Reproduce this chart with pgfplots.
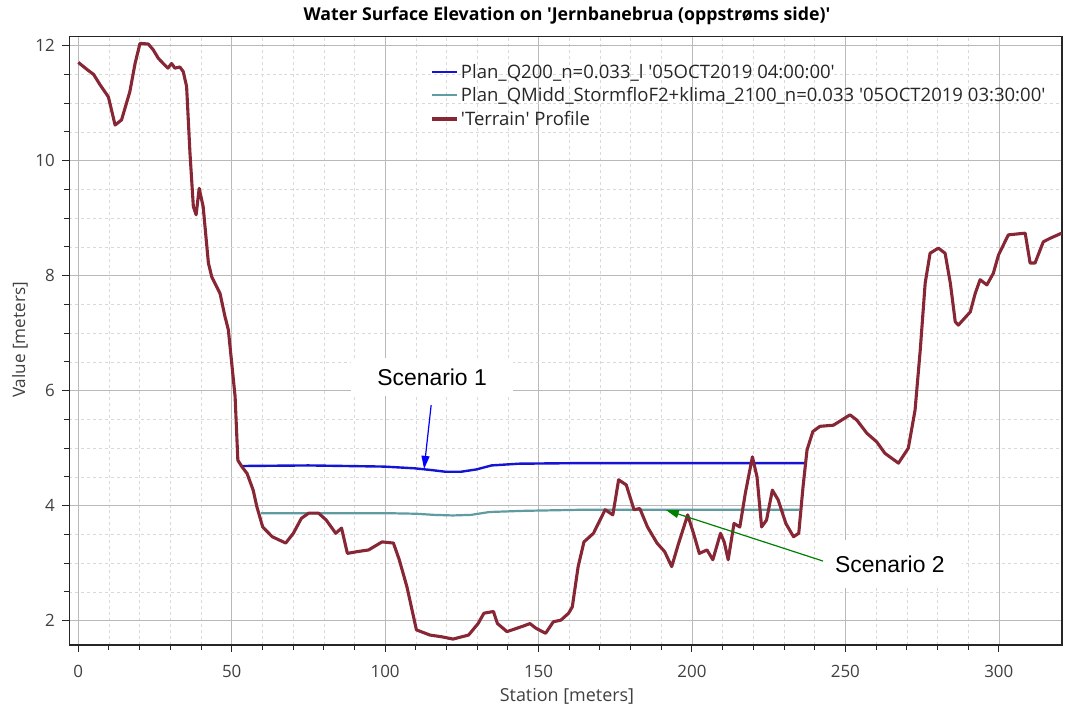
\documentclass[border=0pt]{standalone}
\usepackage{fontspec}
\setmainfont{Open Sans}
\newfontfamily\arial{Liberation Sans}
\usepackage{pgfplots}
\pgfplotsset{compat=1.18}
\usetikzlibrary{arrows.meta}
\definecolor{terrain}{RGB}{135,38,52}
\definecolor{wsblue}{RGB}{20,20,210}
\definecolor{wsteal}{RGB}{95,155,160}
\definecolor{arrgreen}{RGB}{0,128,0}
\newcommand{\q}{\textquotesingle}
\begin{document}
\begin{tikzpicture}[x=1bp,y=1bp]
\useasboundingbox (0,0) rectangle (1065,710);
\begin{axis}[
  at={(69.3bp,65bp)}, anchor=south west,
  scale only axis, width=992.7bp, height=608.3bp,
  xmin=-2.93, xmax=320.6, ymin=1.577, ymax=12.157,
  xtick={0,50,...,300}, minor x tick num=4,
  ytick={2,4,...,12}, minor y tick num=3,
  tick align=outside, xtick pos=bottom, ytick pos=left,
  major tick length=7bp, minor tick length=5bp,
  grid=both,
  major grid style={gray!55, line width=0.6bp},
  minor grid style={gray!30, dashed, line width=0.5bp},
  axis line style={black!85, line width=1.2bp},
  tick style={black!85, line width=1bp},
  ticklabel style={font=\fontsize{17}{20}\selectfont, text=black!75},
  xticklabel style={yshift=-10bp},
  yticklabel style={xshift=-4bp},
  /pgf/number format/assume math mode=true,
  legend style={at={(rel axis cs:0.361,0.962)}, anchor=north west, draw=none, fill=none,
    font=\fontsize{18.6}{21}\selectfont, text=black!85, row sep=4bp},
  legend cell align=left,
  legend image code/.code={\draw[#1] (0bp,0bp) -- (25bp,0bp);},
]
\addplot[wsblue, line width=2.4bp] coordinates {
(53.2,4.69) (75,4.70) (99.6,4.68) (109.6,4.65) (115,4.62) (119.7,4.59) (124.7,4.59)
(129.7,4.63) (134.7,4.70) (143.5,4.73) (162.2,4.74) (236.8,4.74)};
\addlegendentry{Plan\_Q200\_n=0.033\_l \q05OCT2019 04:00:00\q}
\addplot[wsteal, line width=2.2bp] coordinates {
(59.5,3.87) (100,3.87) (110,3.86) (116,3.84) (122,3.83) (128,3.84) (134,3.89)
(145,3.91) (165,3.93) (235,3.93)};
\addlegendentry{Plan\_QMidd\_StormfloF2+klima\_2100\_n=0.033 \q05OCT2019 03:30:00\q}
\addplot[terrain, line width=3.1bp, line join=round] coordinates {
(0,11.71) (3,11.58) (5,11.5) (7.1,11.32) (9.8,11.11) (12,10.62) (14.1,10.71)
(16.8,11.20) (18.5,11.69) (20.1,12.04) (22.8,12.03) (24.4,11.93) (26.1,11.78)
(27.7,11.69) (29.2,11.61) (30.4,11.69) (31.5,11.61) (33.1,11.63) (34.2,11.55)
(35.3,11.29) (36.4,10.13) (37.5,9.20) (38.4,9.06) (39.4,9.52) (40.7,9.20)
(42.4,8.22) (43.5,7.98) (46.2,7.69) (47.8,7.29) (48.9,7.06) (50,6.48) (51.1,5.90)
(52,4.79) (53.3,4.68) (55,4.56) (57,4.27) (58.2,3.98) (60.1,3.63) (63.2,3.46)
(67.6,3.35) (70.1,3.52) (72.7,3.78) (75.1,3.87) (78.3,3.87) (80.8,3.75)
(83.9,3.52) (85.8,3.61) (87.7,3.17) (90.8,3.20) (94.6,3.23) (99.0,3.37)
(102.7,3.35) (104.6,3.06) (107.1,2.59) (110.2,1.84) (114.6,1.75) (118.4,1.72)
(122.1,1.68) (127.2,1.75) (130.3,1.95) (132.2,2.13) (135.3,2.16) (136.6,1.95)
(139.7,1.81) (144.7,1.90) (147.2,1.95) (149.1,1.87) (152.3,1.78) (154.8,1.98)
(157.3,2.01) (159.8,2.13) (161.0,2.24) (162.9,2.94) (164.8,3.37) (167.9,3.52)
(171.7,3.93) (174.2,3.84) (176.1,4.45) (178.6,4.36) (181.1,3.93) (183.0,3.95)
(185.5,3.63) (188.6,3.35) (191.1,3.20) (193.4,2.94) (195.5,3.32) (198.6,3.84)
(200.5,3.52) (202.4,3.17) (204.9,3.23) (206.8,3.06) (209.3,3.52) (210.5,3.37)
(211.8,3.06) (213.7,3.69) (215.6,3.63) (217.4,4.22) (219.7,4.85) (221.2,4.50)
(222.7,3.63) (224.3,3.75) (226.2,4.27) (228.1,4.10) (230.6,3.69) (233.1,3.46)
(234.8,3.52) (236.2,4.33) (237.5,4.97) (239.4,5.29) (241.7,5.38) (246.1,5.40)
(251.5,5.58) (253.7,5.49) (257.0,5.26) (260.2,5.11) (262.9,4.91) (267.3,4.74)
(270.5,5.00) (272.7,5.66) (274.4,6.71) (276.0,7.87) (277.6,8.39) (280.3,8.48)
(282.5,8.39) (284.2,7.87) (285.8,7.20) (286.8,7.14) (290.7,7.37) (292.3,7.69)
(293.9,7.93) (296.1,7.84) (298.2,8.04) (299.9,8.36) (303.1,8.71) (308.6,8.74)
(310.2,8.22) (311.8,8.22) (314.5,8.59) (316.7,8.65) (320.5,8.74)};
\addlegendentry{\q Terrain\q{} Profile}
% annotations
\node[fill=white, inner sep=0pt, minimum width=162bp, minimum height=38bp,
  font=\arial\fontsize{23}{26}\selectfont] at (axis cs:115.3,6.24) {Scenario 1};
\node[fill=white, inner sep=0pt, minimum width=145bp, minimum height=48bp,
  font=\arial\fontsize{23}{26}\selectfont] at (axis cs:264.5,2.986) {Scenario 2};
\draw[blue, line width=1.2bp, -{Triangle[length=13bp,width=8bp]}]
  (axis cs:115.0,5.75) -- (axis cs:112.7,4.64);
\draw[arrgreen, line width=1.2bp, -{Triangle[length=13bp,width=8bp]}]
  (axis cs:242.7,3.037) -- (axis cs:191.5,3.925);
\end{axis}
\node[anchor=base, font=\bfseries\fontsize{17.8}{20}\selectfont] at (567,689) {Water Surface Elevation on \q Jernbanebrua (oppstrøms side)\q};
\node[font=\fontsize{18}{21}\selectfont, text=black!75] at (567,14) {Station [meters]};
\node[rotate=90, font=\fontsize{17.2}{20}\selectfont, text=black!75] at (20,370) {Value [meters]};
\end{tikzpicture}
\end{document}
